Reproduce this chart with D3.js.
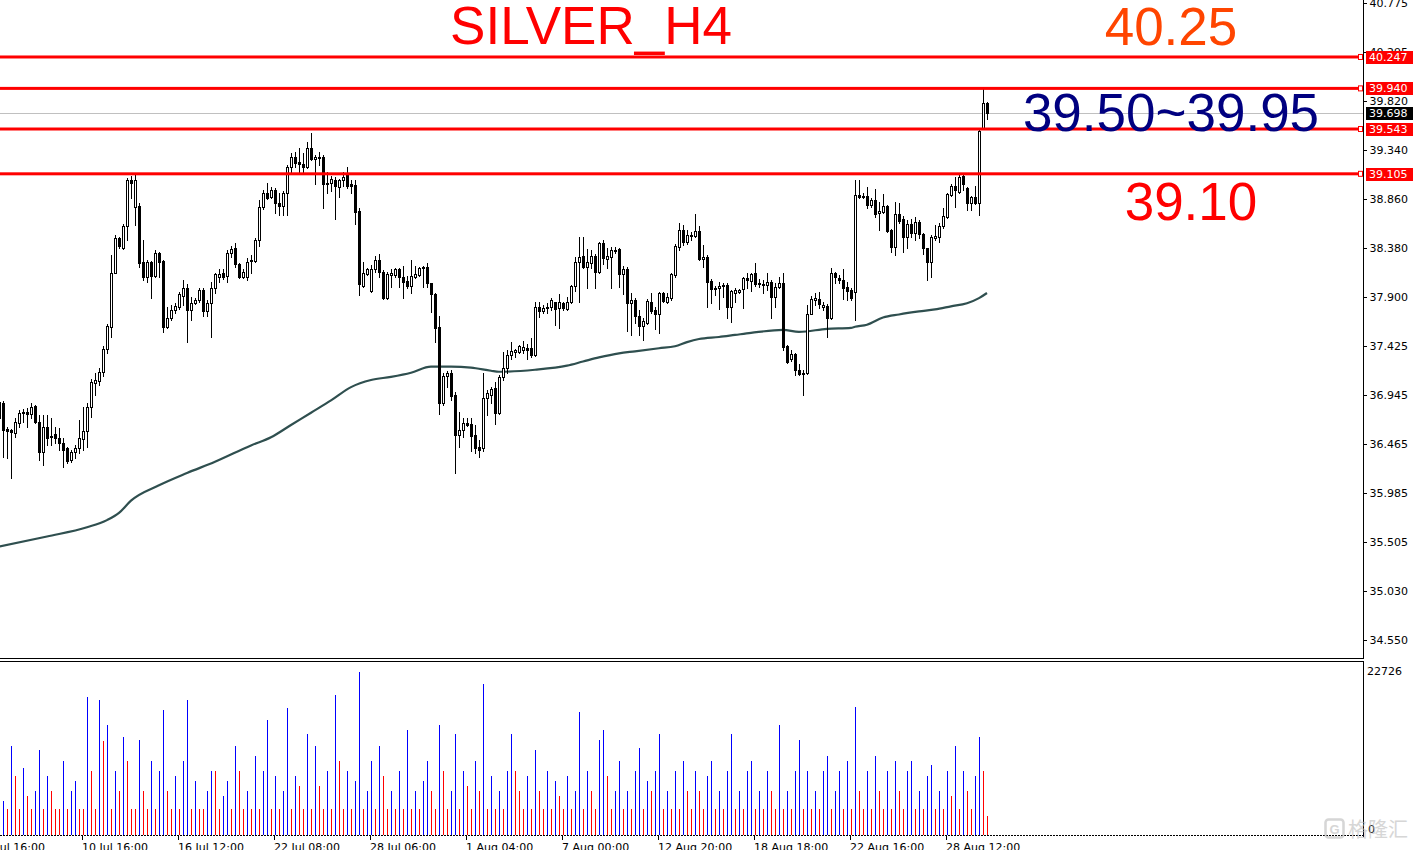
<!DOCTYPE html>
<html><head><meta charset="utf-8">
<script src="https://cdn.jsdelivr.net/npm/d3@7"></script>
<style>
html,body{margin:0;padding:0;background:#fff;overflow:hidden}
svg{display:block}
</style></head><body>
<svg id="c" width="1416" height="850"></svg>
<script>
const open=[36.87,36.86,36.61,36.60,36.57,36.67,36.77,36.78,36.76,36.84,36.68,36.39,36.63,36.54,36.56,36.52,36.47,36.42,36.31,36.39,36.42,36.51,36.59,36.83,37.06,37.08,37.17,37.39,37.61,38.14,38.48,38.38,38.59,39.04,38.78,38.79,38.24,38.10,38.24,38.11,38.33,38.25,37.61,37.70,37.77,37.80,37.91,37.99,37.77,37.84,37.87,37.97,37.76,37.84,37.99,38.10,38.14,38.11,38.33,38.38,38.22,38.10,38.10,38.25,38.25,38.46,38.78,38.92,38.88,38.95,38.82,38.79,38.92,39.17,39.27,39.22,39.20,39.17,39.36,39.25,39.27,39.27,39.02,39.02,39.04,38.98,39.04,39.11,39.01,39.00,38.74,38.01,38.13,37.96,38.17,38.26,38.15,37.89,38.12,38.12,38.17,38.10,38.06,38.01,38.10,38.12,38.19,38.19,38.04,37.93,37.61,36.86,37.13,37.16,36.94,36.55,36.60,36.67,36.66,36.55,36.43,36.42,36.91,36.94,37.01,36.77,37.12,37.21,37.33,37.36,37.36,37.38,37.40,37.40,37.33,37.80,37.76,37.80,37.80,37.85,37.79,37.84,37.78,37.85,38.01,38.24,38.30,38.19,38.23,38.30,38.15,38.43,38.27,38.29,38.36,38.37,38.13,38.17,37.84,37.87,37.72,37.62,37.65,37.85,37.77,37.73,37.94,37.85,37.89,38.12,38.39,38.56,38.44,38.50,38.50,38.55,38.27,38.29,38.06,37.99,37.99,38.01,38.02,37.80,37.94,37.95,37.98,38.09,38.06,38.14,38.04,38.03,38.02,38.05,37.90,38.00,38.04,37.42,37.29,37.34,37.19,37.16,37.16,37.73,37.87,37.88,37.80,37.81,37.70,38.14,38.09,38.07,38.00,37.97,37.95,38.90,38.89,38.89,38.80,38.85,38.72,38.73,38.79,38.56,38.39,38.71,38.66,38.49,38.61,38.53,38.63,38.52,38.38,38.24,38.48,38.49,38.59,38.68,38.90,38.99,38.93,39.08,38.97,38.82,38.88,38.82,39.55,39.80];
const high=[36.91,36.88,36.63,36.61,36.72,36.80,36.81,36.82,36.86,36.85,36.75,36.75,36.75,36.72,36.63,36.62,36.52,36.43,36.41,36.45,36.70,36.83,36.86,37.10,37.16,37.21,37.42,37.64,38.31,38.51,38.49,38.61,39.06,39.08,39.09,38.82,38.46,38.26,38.25,38.36,38.34,38.26,37.80,37.82,37.84,37.95,38.07,38.03,37.90,37.89,37.99,37.99,37.87,38.05,38.14,38.17,38.17,38.36,38.40,38.43,38.23,38.17,38.28,38.31,38.48,38.85,38.95,39.02,38.98,38.97,38.92,38.94,39.19,39.31,39.32,39.36,39.31,39.42,39.50,39.29,39.32,39.29,39.12,39.08,39.07,39.05,39.12,39.17,39.04,39.04,38.77,38.24,38.18,38.21,38.30,38.32,38.16,38.15,38.17,38.18,38.18,38.20,38.11,38.26,38.20,38.19,38.20,38.23,38.04,37.94,37.72,37.16,37.18,37.19,36.97,36.78,36.72,36.72,36.72,36.65,36.50,37.16,36.99,37.02,37.07,37.14,37.36,37.38,37.46,37.39,37.43,37.47,37.44,37.50,37.85,37.85,37.82,37.84,37.89,37.85,37.93,37.85,37.90,38.02,38.29,38.49,38.49,38.37,38.36,38.32,38.44,38.46,38.38,38.39,38.39,38.38,38.20,38.19,37.94,37.89,37.77,37.70,37.88,37.94,37.80,37.95,37.95,37.94,38.14,38.42,38.62,38.60,38.56,38.54,38.71,38.59,38.41,38.31,38.08,38.01,38.05,38.04,38.04,37.97,37.99,37.98,38.10,38.14,38.14,38.23,38.08,38.07,38.14,38.07,38.04,38.10,38.14,37.43,37.38,37.35,37.25,37.19,37.82,37.91,37.94,37.95,37.85,37.83,38.18,38.15,38.12,38.17,38.05,37.99,39.04,39.04,38.92,38.98,38.87,38.96,38.83,38.91,38.80,38.57,38.83,38.82,38.69,38.65,38.66,38.68,38.65,38.53,38.38,38.51,38.60,38.62,38.77,38.92,39.01,39.07,39.11,39.11,38.98,38.89,38.99,39.53,39.93,39.81];
const low=[36.34,36.34,36.33,36.13,36.53,36.63,36.68,36.63,36.72,36.67,36.31,36.26,36.45,36.45,36.47,36.41,36.24,36.28,36.29,36.33,36.38,36.41,36.43,36.73,36.94,37.04,37.13,37.35,37.51,38.14,38.38,38.37,38.46,38.87,38.60,38.19,38.07,38.05,37.89,38.10,38.10,37.56,37.60,37.68,37.74,37.78,37.82,37.46,37.68,37.83,37.85,37.72,37.72,37.51,37.94,38.05,38.08,38.05,38.29,38.19,38.09,38.09,38.07,38.14,38.24,38.40,38.76,38.86,38.87,38.72,38.70,38.70,38.70,39.11,39.17,39.12,39.11,39.16,39.24,39.01,39.19,38.77,38.92,38.94,38.66,38.88,38.99,38.97,38.92,38.61,37.92,38.00,38.12,37.95,38.15,38.10,37.88,37.88,38.00,38.10,38.00,37.89,37.99,37.94,38.09,38.11,38.00,38.00,37.75,37.46,36.76,36.85,37.02,36.89,36.18,36.43,36.53,36.64,36.40,36.38,36.34,36.40,36.75,36.86,36.66,36.76,37.09,37.16,37.29,37.31,37.35,37.35,37.29,37.31,37.32,37.71,37.74,37.74,37.77,37.63,37.60,37.77,37.77,37.84,37.96,37.85,38.18,37.99,38.18,37.99,38.14,38.22,38.18,37.99,38.33,38.00,37.93,37.57,37.53,37.65,37.53,37.48,37.64,37.74,37.59,37.55,37.85,37.84,37.87,38.10,38.36,38.41,38.42,38.46,38.49,38.26,38.19,37.80,37.84,37.92,37.78,37.90,37.70,37.66,37.85,37.94,37.79,37.99,37.96,38.01,38.00,37.94,37.97,37.70,37.80,37.99,37.38,37.26,37.28,37.14,37.14,36.94,37.15,37.73,37.82,37.79,37.77,37.51,37.69,38.04,38.04,37.88,37.87,37.87,37.68,38.87,38.87,38.77,38.78,38.68,38.56,38.72,38.54,38.34,38.31,38.62,38.34,38.38,38.49,38.46,38.48,38.32,38.07,38.10,38.46,38.44,38.58,38.67,38.89,38.78,38.92,38.95,38.75,38.75,38.81,38.70,39.54,39.64];
const close=[36.72,36.60,36.59,36.58,36.68,36.77,36.78,36.76,36.83,36.68,36.39,36.63,36.52,36.53,36.52,36.47,36.41,36.30,36.39,36.42,36.52,36.59,36.83,37.07,37.09,37.17,37.39,37.62,38.14,38.48,38.40,38.59,39.04,39.02,39.04,38.23,38.10,38.24,38.11,38.33,38.24,37.61,37.70,37.77,37.81,37.93,37.99,37.77,37.84,37.87,37.97,37.76,37.84,37.99,38.13,38.13,38.10,38.33,38.37,38.22,38.10,38.15,38.24,38.26,38.46,38.78,38.92,38.87,38.95,38.82,38.79,38.92,39.17,39.27,39.21,39.20,39.17,39.36,39.25,39.27,39.26,39.01,39.01,39.05,38.99,39.04,39.07,38.99,38.99,38.73,38.03,38.14,38.17,38.17,38.26,38.15,37.89,38.13,38.14,38.17,38.10,38.05,38.01,38.11,38.13,38.18,38.18,38.04,37.93,37.60,36.86,37.13,37.16,36.93,36.55,36.60,36.67,36.65,36.54,36.42,36.41,36.91,36.96,37.00,36.77,37.12,37.21,37.33,37.37,37.38,37.42,37.41,37.38,37.33,37.80,37.76,37.79,37.79,37.87,37.78,37.85,37.79,37.85,38.01,38.24,38.29,38.19,38.24,38.30,38.15,38.43,38.28,38.30,38.36,38.35,38.13,38.17,37.84,37.87,37.72,37.62,37.67,37.86,37.76,37.73,37.94,37.86,37.90,38.13,38.40,38.56,38.44,38.51,38.51,38.55,38.27,38.29,38.05,37.98,37.98,38.01,38.02,37.80,37.96,37.97,37.97,38.09,38.07,38.13,38.03,38.03,38.02,38.05,37.90,38.00,38.04,37.41,37.27,37.34,37.19,37.15,37.15,37.73,37.88,37.89,37.83,37.82,37.70,38.14,38.10,38.07,37.99,37.96,37.89,38.90,38.88,38.88,38.80,38.85,38.71,38.74,38.79,38.55,38.39,38.71,38.64,38.49,38.61,38.53,38.63,38.52,38.38,38.24,38.49,38.50,38.59,38.69,38.91,38.99,38.95,39.07,39.01,38.82,38.88,38.82,39.52,39.80,39.698];
const volume=[3000,4500,3500,11800,7800,3500,8800,5200,3500,5800,11200,3500,7800,5800,3500,3500,9800,3500,5800,7200,3500,3500,18200,8500,3500,17800,12400,14600,3500,8500,5800,12900,9800,3500,3500,12600,5800,3500,9800,3500,8500,16500,5800,3500,7800,3500,9800,17800,3500,7200,3500,3500,5800,8500,8500,3500,5200,7200,3500,11800,8500,3500,5800,3500,10500,3500,8500,15200,3500,7800,3500,5800,16800,3500,7800,6500,3500,13300,3500,11800,6500,3500,8500,3500,18500,9800,3500,8500,3500,7200,21500,3500,5800,9800,3500,11800,7800,3500,5800,3500,8500,3500,13900,3500,5800,3500,7200,9800,5800,3500,14600,8500,3500,5800,13300,3500,8500,6500,3500,9800,5800,19900,3500,7800,3500,5800,3500,8500,13300,8500,5800,3500,7800,3500,11200,5800,3500,8500,3500,7200,5200,3500,7800,3500,5800,16200,3500,8500,5800,3500,12600,13900,7800,3500,5800,9800,3500,5800,3500,8500,11500,3500,7200,5800,8500,13300,3500,5800,3500,8500,3500,9800,5800,3500,8500,5800,3500,7800,9800,3500,5800,3500,8500,13300,3500,5800,3500,8500,9800,3500,5800,3500,8500,5800,3500,14600,3500,5800,3500,8500,12600,3500,8500,3500,5800,3500,8500,10500,3500,5800,8500,3500,9800,3500,16900,5800,3500,8500,3500,10500,5800,3500,8500,3500,9800,5800,3500,8500,9800,3500,5800,3500,7800,9200,3500,5800,3500,8500,5200,11800,3500,8500,5800,3500,7800,12900,8500,2500];
const maIndex=[0,12,22,27,30,33,40,47,54,63,68,73,78,83,88,93,98,103,108,113,118,123,125,134,142,146,150,155,159,165,169,172,175,180,184,188,196,200,207,213,214,217,221,225,230,234,238,242,245,247];
const maValue=[35.46,35.56,35.65,35.72,35.79,35.91,36.06,36.18,36.29,36.45,36.53,36.65,36.77,36.89,37.02,37.09,37.12,37.16,37.22,37.22,37.21,37.18,37.17,37.19,37.23,37.27,37.31,37.35,37.37,37.40,37.42,37.46,37.49,37.51,37.53,37.55,37.58,37.56,37.59,37.60,37.61,37.63,37.70,37.73,37.76,37.78,37.81,37.84,37.89,37.94];
const priceTicks=["40.775","40.295","39.820","39.340","38.860","38.380","37.900","37.425","36.945","36.465","35.985","35.505","35.030","34.550"];
const timeLabels=["4 Jul 16:00","10 Jul 16:00","16 Jul 12:00","22 Jul 08:00","28 Jul 06:00","1 Aug 04:00","7 Aug 00:00","12 Aug 20:00","18 Aug 18:00","22 Aug 16:00","28 Aug 12:00"];
const timeIndex=[-3.25,20.75,44.75,68.75,92.75,116.75,140.75,164.75,188.75,212.75,236.75];
const levelValues=[40.247,39.940,39.543,39.105];
const currentPrice=39.698;
const volumeMax=22726;
const notes=[{t:"SILVER_H4",c:"#FF0000"},{t:"40.25",c:"#FF4500"},{t:"39.50~39.95",c:"#000080"},{t:"39.10",c:"#FF0000"}];

const svg=d3.select("#c");
const W=1416,H=850,AX=1363;
const x=d3.scaleLinear().domain([0,247]).range([-1,987]);
const y=d3.scaleLinear().domain([34.55,40.775]).range([639.8,2.97]);
const vy=d3.scaleLinear().domain([0,volumeMax]).range([835,663]);
const font='"DejaVu Sans",Tahoma,Verdana,sans-serif';

const defs=svg.append("defs");
defs.append("clipPath").attr("id","pclip").append("rect").attr("x",0).attr("y",0).attr("width",AX).attr("height",658);
defs.append("clipPath").attr("id","vclip").append("rect").attr("x",0).attr("y",662).attr("width",AX).attr("height",174);

svg.append("rect").attr("width",W).attr("height",H).attr("fill","#fff");

const pg=svg.append("g").attr("clip-path","url(#pclip)");
pg.append("line").attr("x1",0).attr("x2",AX).attr("y1",Math.round(y(currentPrice))+0.5).attr("y2",Math.round(y(currentPrice))+0.5).attr("stroke","#c0c0c0").attr("stroke-width",1);

const maData=maIndex.map((d,i)=>[d,maValue[i]]);
pg.append("path").datum(maData).attr("fill","none").attr("stroke","#2F4F4F").attr("stroke-width",2.2)
  .attr("d",d3.line().x(d=>x(d[0])).y(d=>y(d[1])).curve(d3.curveMonotoneX));

const idx=d3.range(open.length);
const cg=pg.append("g").attr("shape-rendering","crispEdges");
idx.forEach(i=>{
  const cx=Math.round(x(i));
  const yh=Math.round(y(high[i])), yl=Math.round(y(low[i]));
  cg.append("rect").attr("x",cx).attr("y",yh).attr("width",1).attr("height",Math.max(1,yl-yh+1)).attr("fill","#000");
  const top=Math.round(y(Math.max(open[i],close[i]))), bot=Math.round(y(Math.min(open[i],close[i])));
  if(close[i]>=open[i]){
    cg.append("rect").attr("x",cx-0.5).attr("y",top+0.5).attr("width",2).attr("height",Math.max(0,bot-top))
      .attr("fill","#fff").attr("stroke","#000").attr("stroke-width",1);
  } else {
    cg.append("rect").attr("x",cx-1).attr("y",top).attr("width",3).attr("height",Math.max(1,bot-top+1)).attr("fill","#000");
  }
});

levelValues.forEach(v=>{
  const yy=y(v);
  svg.append("rect").attr("x",0).attr("y",yy-1.5).attr("width",1359).attr("height",3).attr("fill","#FF0000");
  svg.append("rect").attr("x",1358.5).attr("y",yy-2.5).attr("width",4).attr("height",5).attr("fill","#fff").attr("stroke","#FF0000").attr("stroke-width",1);
});

const nf='"Liberation Sans",Arial,sans-serif';
const notePos=[[591,44],[1171,45],[1171,131],[1191,220]];
notes.forEach((n,i)=>{
  svg.append("text").attr("x",notePos[i][0]).attr("y",notePos[i][1]).attr("text-anchor","middle")
    .attr("font-family",nf).attr("font-size",53).attr("fill",n.c).text(n.t);
});

const bg=svg.append("g").attr("shape-rendering","crispEdges");
bg.append("line").attr("x1",AX+0.5).attr("x2",AX+0.5).attr("y1",0).attr("y2",659).attr("stroke","#000");
bg.append("line").attr("x1",0).attr("x2",AX+1).attr("y1",658.5).attr("y2",658.5).attr("stroke","#000");
bg.append("line").attr("x1",0).attr("x2",AX+1).attr("y1",661.5).attr("y2",661.5).attr("stroke","#000");
bg.append("line").attr("x1",AX+0.5).attr("x2",AX+0.5).attr("y1",661).attr("y2",837).attr("stroke","#000");

const yAxis=d3.axisRight(y).tickValues(priceTicks.map(Number)).tickFormat((d,i)=>priceTicks[i]).tickSize(3).tickPadding(3);
const ya=svg.append("g").attr("transform",`translate(${AX+0.5},0)`).call(yAxis);
ya.select(".domain").remove();
ya.selectAll("line").attr("stroke","#000").attr("shape-rendering","crispEdges");
ya.selectAll("text").attr("font-family",font).attr("font-size",11).attr("fill","#000");

levelValues.forEach(v=>{
  const yy=Math.round(y(v));
  svg.append("rect").attr("x",1366).attr("y",yy-6).attr("width",47).attr("height",13).attr("fill","#FF0000");
  svg.append("text").attr("x",1369).attr("y",yy+4).attr("font-family",font).attr("font-size",11).attr("fill","#fff").text(v.toFixed(3));
});
{
  const yy=Math.round(y(currentPrice));
  svg.append("rect").attr("x",1366).attr("y",yy-6).attr("width",47).attr("height",13).attr("fill","#000");
  svg.append("text").attr("x",1369).attr("y",yy+4).attr("font-family",font).attr("font-size",11).attr("fill","#fff").text(currentPrice.toFixed(3));
}

const vg=svg.append("g").attr("clip-path","url(#vclip)").attr("shape-rendering","crispEdges");
idx.forEach(i=>{
  const cx=Math.round(x(i));
  const col=(i>0 && volume[i]>volume[i-1])?"#0000FF":"#FF0000";
  vg.append("rect").attr("x",cx).attr("y",Math.round(vy(volume[i]))).attr("width",1)
    .attr("height",Math.max(1,835-Math.round(vy(volume[i])))).attr("fill",col);
});
svg.append("line").attr("x1",0).attr("x2",AX).attr("y1",835.5).attr("y2",835.5).attr("stroke","#000").attr("stroke-dasharray","2,1").attr("shape-rendering","crispEdges");
svg.append("text").attr("x",1367).attr("y",675).attr("font-family",font).attr("font-size",11).attr("fill","#000").text(String(volumeMax));
svg.append("text").attr("x",1368).attr("y",833).attr("font-family",font).attr("font-size",11).attr("fill","#000").text("0");

const tx=svg.append("g");
timeIndex.forEach((t,i)=>{
  const px=Math.round(x(t));
  tx.append("rect").attr("x",px).attr("y",836).attr("width",1).attr("height",4).attr("fill","#000");
  tx.append("text").attr("x",px).attr("y",851).attr("font-family",font).attr("font-size",11).attr("fill","#000").text(timeLabels[i]);
});

const wm=svg.append("g").attr("opacity",0.6);
wm.append("rect").attr("x",1325.5).attr("y",819.5).attr("width",18).attr("height",18).attr("rx",3).attr("fill","none").attr("stroke","#bbb").attr("stroke-width",2.5);
wm.append("text").attr("x",1334.5).attr("y",834).attr("text-anchor","middle").attr("font-family",nf).attr("font-weight","bold").attr("font-size",13).attr("fill","#bbb").text("G");
wm.append("text").attr("x",1348).attr("y",837).attr("font-family",'"Noto Sans CJK SC",sans-serif').attr("font-size",20).attr("fill","#bbb").text("格隆汇");
</script>
</body></html>
